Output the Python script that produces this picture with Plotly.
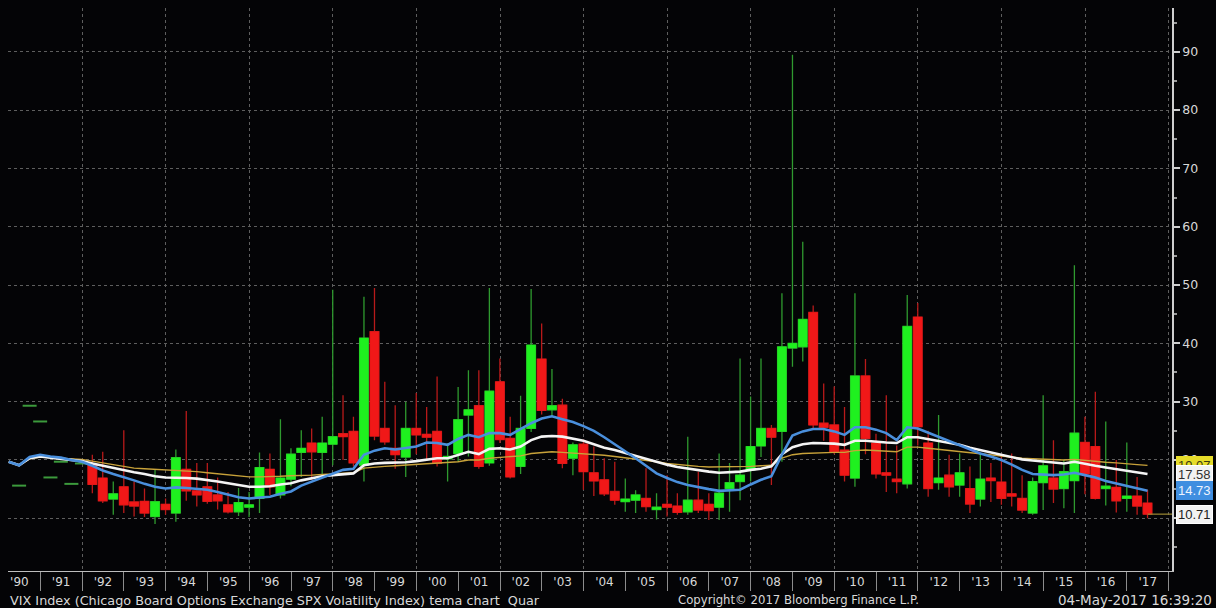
import pandas as pd
import plotly.graph_objects as go

# ---------------- data ----------------
quarters = pd.date_range("1990-03-31", periods=110, freq="QE")   # quarter-end dates 1990Q1..2017Q2
candle_q = quarters[8:]          # candles from 1992Q1
dash_q = quarters[1:8]           # early close-only marks 1990Q2..1991Q4
grid_years = pd.date_range("1992-01-01", "2018-01-01", freq="2YS")

dash_vals = [15.6, 29.3, 26.6, 17.0, 19.7, 15.9, 19.4]

opens = [
    19.1, 16.9, 13.3, 15.4,   # 1992
    12.8, 12.9, 10.3, 12.4,   # 1993
    10.9, 18.4, 14.7, 15.4,   # 1994
    14.0, 12.3, 11.1, 11.9,   # 1995
    13.4, 18.4, 14.0, 16.7,   # 1996
    21.3, 22.9, 21.3, 22.7,   # 1997
    24.5, 24.9, 19.1, 42.0,   # 1998
    25.4, 22.0, 20.5, 25.4,   # 1999
    24.4, 24.9, 20.2, 21.1,   # 2000
    27.7, 29.3, 19.5, 33.4,   # 2001
    23.7, 18.9, 25.4, 37.3,   # 2002
    28.6, 29.4, 20.3, 22.7,   # 2003
    17.8, 16.6, 14.6, 12.85,  # 2004
    13.1, 13.4, 11.5, 12.4,   # 2005
    12.1, 11.1, 13.1, 12.4,   # 2006
    11.9, 15.1, 16.3, 18.3,   # 2007
    22.4, 25.4, 24.9, 39.2,   # 2008
    39.4, 45.3, 26.3, 26.0,   # 2009
    21.7, 16.9, 34.4, 22.9,   # 2010
    17.8, 16.7, 15.9, 44.5,   # 2011
    22.9, 16.1, 17.4, 15.7,   # 2012
    15.1, 13.3, 16.9, 16.2,   # 2013
    14.2, 13.4, 10.9, 16.1,   # 2014
    16.9, 15.1, 16.45, 23.0,  # 2015
    22.3, 15.1, 15.3, 13.4,   # 2016
    13.8, 12.6,               # 2017
]
highs = [
    20.9, 21.4, 16.3, 25.1,
    16.3, 15.1, 18.4, 13.4,
    21.8, 28.4, 19.5, 19.5,
    17.0, 14.5, 15.2, 14.5,
    21.3, 21.1, 27.0, 22.0,
    25.1, 25.4, 27.4, 49.2,
    31.1, 27.4, 48.0, 49.5,
    33.4, 29.4, 30.0, 31.5,
    29.1, 34.3, 22.9, 32.5,
    35.4, 35.4, 49.5, 37.4,
    27.4, 31.0, 49.3, 43.4,
    35.6, 30.5, 23.0, 23.5,
    22.3, 20.3, 19.7, 16.8,
    14.8, 18.6, 14.3, 17.4,
    14.3, 24.0, 18.0, 14.3,
    21.1, 19.5, 37.4, 30.9,
    37.4, 26.0, 48.6, 89.5,
    57.4, 46.5, 33.1, 32.6,
    29.1, 48.6, 37.3, 24.5,
    31.1, 22.5, 48.3, 46.9,
    25.0, 27.7, 20.9, 21.1,
    18.9, 21.1, 19.5, 20.9,
    21.1, 17.4, 17.0, 31.1,
    23.4, 20.1, 53.4, 27.4,
    31.7, 26.6, 20.0, 23.0,
    17.1, 14.9,
]
lows = [
    14.3, 12.6, 10.6, 10.9,
    10.3, 10.2, 9.0, 10.6,
    9.4, 13.0, 12.0, 12.5,
    11.5, 10.8, 10.4, 10.2,
    10.9, 14.0, 13.4, 15.5,
    17.1, 16.6, 17.1, 19.1,
    20.0, 18.9, 16.3, 23.4,
    22.6, 18.5, 17.1, 21.0,
    20.0, 18.9, 16.3, 19.7,
    20.6, 18.5, 19.0, 22.9,
    16.8, 17.6, 24.8, 27.8,
    27.4, 18.6, 17.4, 14.9,
    13.8, 13.8, 12.3, 11.1,
    10.9, 11.1, 9.8, 10.3,
    10.6, 10.6, 10.9, 9.7,
    9.7, 11.1, 13.1, 16.3,
    20.5, 15.7, 19.7, 36.0,
    36.9, 25.5, 23.3, 21.0,
    16.3, 15.4, 21.0, 16.8,
    14.5, 14.3, 15.1, 22.5,
    13.7, 14.9, 13.7, 13.7,
    10.9, 12.0, 12.8, 12.3,
    12.0, 10.9, 10.6, 11.4,
    12.6, 11.7, 10.9, 14.1,
    13.2, 12.2, 11.0, 11.1,
    10.6, 10.0,
]
closes = [
    15.8, 13.0, 14.2, 12.3,
    12.1, 10.9, 12.85, 11.5,
    20.4, 14.7, 14.0, 12.9,
    13.0, 11.1, 12.7, 12.3,
    18.7, 15.4, 16.9, 21.0,
    22.0, 21.4, 22.9, 24.0,
    24.0, 19.5, 40.9, 24.1,
    23.1, 20.9, 25.4, 24.3,
    23.9, 19.4, 20.6, 26.9,
    28.6, 18.9, 31.8, 23.5,
    17.1, 25.4, 39.7, 28.5,
    29.3, 19.4, 22.6, 18.0,
    16.4, 14.2, 13.1, 13.3,
    14.0, 12.0, 11.9, 11.9,
    11.0, 13.1, 11.4, 11.3,
    14.3, 16.1, 17.4, 22.3,
    25.4, 23.9, 39.4, 40.0,
    44.1, 26.0, 25.6, 21.4,
    17.4, 34.4, 23.7, 17.6,
    17.4, 16.3, 42.9, 25.7,
    15.1, 16.9, 15.4, 17.8,
    12.45, 16.7, 16.45, 13.4,
    13.8, 11.4, 16.3, 19.0,
    15.0, 18.0, 24.6, 17.6,
    13.4, 15.5, 13.0, 13.8,
    12.1, 10.71,
]

tema_blue = [
    19.7, 19.1, 20.5, 20.9, 20.6, 20.4, 20.0, 19.7,
    19.0, 18.2, 17.6, 17.1, 16.5, 15.9, 15.4, 15.1,
    15.3, 15.2, 15.1, 14.9, 14.5, 14.0, 13.6, 13.4,
    13.6, 13.7, 14.2, 14.6, 15.6, 16.3, 17.0, 17.7,
    18.3, 18.5, 20.9, 21.6, 22.0, 21.8, 22.1, 22.3,
    23.0, 22.9, 22.6, 23.6, 24.3, 23.9, 24.6, 24.6,
    24.3, 25.3, 26.3, 27.1, 27.5, 27.0, 26.5, 25.8,
    25.0, 23.9, 22.7, 21.6, 20.3, 19.0, 17.7, 16.9,
    16.2, 15.7, 15.3, 15.0, 14.7, 14.8, 14.9, 15.8,
    16.6, 17.2, 20.9, 24.2, 24.9, 25.3, 25.3, 24.9,
    24.3, 25.6, 25.6, 25.2, 24.6, 23.4, 25.6, 25.4,
    24.7, 24.0, 23.3, 22.6, 21.9, 21.1, 20.6, 20.0,
    19.2, 18.3, 17.6, 17.5, 17.4, 17.5, 17.8, 17.4,
    17.0, 16.4, 16.0, 15.6, 15.2, 14.73,
]
tema_white = [
    19.7, 19.1, 20.3, 20.6, 20.4, 20.2, 20.0, 19.8,
    19.4, 19.0, 18.6, 18.3, 17.9, 17.6, 17.2, 17.0,
    17.0, 16.9, 16.8, 16.6, 16.3, 16.0, 15.7, 15.4,
    15.4, 15.5, 15.8, 16.0, 16.5, 16.9, 17.2, 17.4,
    17.6, 17.7, 19.1, 19.4, 19.5, 19.5, 19.6, 19.8,
    20.1, 20.3, 20.3, 20.9, 21.4, 21.0, 21.9, 22.0,
    21.8, 22.3, 23.4, 24.0, 24.1, 24.0, 23.7, 23.3,
    22.7, 22.1, 21.7, 21.2, 20.7, 20.1, 19.7, 19.2,
    18.8, 18.5, 18.2, 18.0, 17.8, 17.9, 18.0, 18.3,
    18.5, 18.9, 21.0, 22.2, 22.7, 22.9, 22.9, 22.8,
    22.6, 23.3, 23.3, 23.1, 23.0, 22.9, 23.9, 23.9,
    23.6, 23.2, 22.9, 22.6, 22.1, 21.7, 21.3, 20.8,
    20.5, 20.1, 19.9, 19.7, 19.5, 19.4, 19.7, 19.3,
    19.0, 18.7, 18.4, 18.2, 17.9, 17.58,
]
tema_yellow = [
    19.7, 19.2, 20.2, 20.5, 20.4, 20.3, 20.2, 20.1,
    19.8, 19.5, 19.2, 18.8, 18.6, 18.5, 18.4, 18.3,
    18.3, 18.2, 18.0, 17.8, 17.6, 17.4, 17.2, 17.1,
    17.1, 17.1, 17.2, 17.3, 17.3, 17.4, 17.5, 17.6,
    17.7, 17.8, 18.6, 18.8, 18.9, 19.0, 19.1, 19.2,
    19.3, 19.5, 19.5, 19.7, 20.0, 20.0, 20.3, 20.4,
    20.5, 20.7, 21.1, 21.3, 21.4, 21.3, 21.2, 21.1,
    21.0, 20.8, 20.6, 20.4, 20.2, 20.0, 19.7, 19.4,
    19.2, 19.0, 18.9, 18.8, 18.8, 18.8, 18.8, 18.9,
    19.0, 19.1, 20.3, 20.9, 21.1, 21.2, 21.3, 21.3,
    21.3, 21.6, 21.7, 21.6, 21.5, 21.4, 22.2, 22.2,
    22.0, 21.8, 21.6, 21.4, 21.2, 21.0, 20.9, 20.7,
    20.5, 20.3, 20.2, 20.1, 20.0, 20.0, 20.1, 19.9,
    19.8, 19.6, 19.5, 19.3, 19.2, 19.07,
]

y_ticks = [10, 20, 30, 40, 50, 60, 70, 80, 90]
x_range = ["1990-03-25", "2018-01-30"]
y_range = [0.96, 97.5]

# ---------------- styling ----------------
BG = "#040406"
UP, DN = "#1ff01f", "#f01818"
WICK_UP, WICK_DN = "#2f9a2f", "#b81a1a"
FONT = "Liberation Sans, Arial, sans-serif"
WIDE = "DejaVu Sans, Verdana, sans-serif"
TXT = "#d8d8d8"

body_hi = [max(o, c) for o, c in zip(opens, closes)]
body_lo = [min(o, c) for o, c in zip(opens, closes)]

fig = go.Figure()

# wicks
fig.add_trace(go.Candlestick(
    x=candle_q, open=opens, high=highs, low=lows, close=closes,
    increasing=dict(line=dict(color=WICK_UP, width=1.3), fillcolor=WICK_UP),
    decreasing=dict(line=dict(color=WICK_DN, width=1.3), fillcolor=WICK_DN),
    whiskerwidth=0, hoverinfo="skip", showlegend=False,
))
# bodies
fig.add_trace(go.Candlestick(
    x=candle_q, open=opens, high=body_hi, low=body_lo, close=closes,
    increasing=dict(line=dict(color=UP, width=0.5), fillcolor=UP),
    decreasing=dict(line=dict(color=DN, width=0.5), fillcolor=DN),
    whiskerwidth=0, hoverinfo="skip", showlegend=False,
))

# early close-only marks
fig.add_trace(go.Scatter(
    x=dash_q, y=dash_vals, mode="markers", xaxis="x2",
    marker=dict(symbol="line-ew", size=10, line=dict(color="#3c9a3c", width=2)),
    hoverinfo="skip", showlegend=False,
))

# TEMA lines
fig.add_trace(go.Scatter(x=quarters, y=tema_yellow, mode="lines", xaxis="x2",
                         line=dict(color="#c8a23a", width=1.4), hoverinfo="skip", showlegend=False))
fig.add_trace(go.Scatter(x=quarters, y=tema_white, mode="lines", xaxis="x2",
                         line=dict(color="#f4f4f4", width=2.6), hoverinfo="skip", showlegend=False))
fig.add_trace(go.Scatter(x=quarters, y=tema_blue, mode="lines", xaxis="x2",
                         line=dict(color="#4a8fdc", width=2.6), hoverinfo="skip", showlegend=False))

# last price line to the axis
fig.add_trace(go.Scatter(x=[quarters[-1], x_range[1]], y=[closes[-1], closes[-1]], mode="lines",
                         xaxis="x2", line=dict(color="#9c8a34", width=1.2),
                         hoverinfo="skip", showlegend=False))

grid = dict(showgrid=True, gridcolor="#5e5e5e", griddash="dot", gridwidth=1)

fig.update_layout(
    width=1216, height=608,
    margin=dict(l=8, r=44, t=8, b=37),
    paper_bgcolor=BG, plot_bgcolor=BG,
    boxgap=0.08, boxgroupgap=0.08,
    showlegend=False,
    font=dict(family=FONT, color=TXT, size=12),
    xaxis=dict(
        type="date", range=x_range, rangeslider=dict(visible=False),
        tickmode="array", tickvals=grid_years, ticks="", showticklabels=False,
        zeroline=False, showline=False, **grid,
    ),
    xaxis2=dict(
        type="date", range=x_range, overlaying="x", anchor="y", side="bottom",
        dtick="M12", tick0="1990-01-01", tickformat="'%y", ticklabelmode="period",
        ticks="outside", ticklen=19, tickwidth=1, tickcolor="#8c8c8c",
        ticklabelstandoff=-19,
        tickfont=dict(family=WIDE, size=12, color=TXT),
        showgrid=False, gridcolor="rgba(0,0,0,0)", zeroline=False,
        showline=True, linecolor="#bdbdbd", linewidth=1,
    ),
    yaxis=dict(
        side="right", range=y_range, tickvals=y_ticks,
        ticks="outside", ticklen=6, tickwidth=2, tickcolor="#cfcfcf",
        tickfont=dict(family=WIDE, size=12.5, color=TXT),
        showline=True, linecolor="#cfcfcf", linewidth=1.5,
        zeroline=False,
        minor=dict(dtick=5, tick0=0, ticks="outside", ticklen=3, tickcolor="#9a9a9a", showgrid=False),
        **grid,
    ),
)

# end-value labels on the right axis
end_labels = [
    (tema_yellow[-1], "#e6dc2a", "#3a3a10", "#e6dc2a"),
    (tema_white[-1], "#f2f2f2", "#303030", "#ffffff"),
    (tema_blue[-1], "#3f8ee0", "#eef4ff", "#3f8ee0"),
    (closes[-1], "#f2f2f2", "#202020", "#ffffff"),
]
for val, bg, fg, border in end_labels:
    fig.add_annotation(
        x=1, xref="paper", y=val, yref="y", xanchor="left", yanchor="middle",
        xshift=4, text=f"{val:.2f}", showarrow=False,
        font=dict(family=FONT, size=13, color=fg),
        bgcolor=bg, bordercolor=border, borderwidth=1, borderpad=1,
    )

# footer texts
fig.add_annotation(x=0, xref="paper", y=-0.052, yref="paper", xanchor="left", yanchor="middle",
                   text="VIX Index (Chicago Board Options Exchange SPX Volatility Index) tema chart  Quar",
                   showarrow=False, font=dict(family=WIDE, size=12.8, color=TXT))
fig.add_annotation(x=0.574, xref="paper", y=-0.052, yref="paper", xanchor="left", yanchor="middle",
                   text="Copyright© 2017 Bloomberg Finance L.P.",
                   showarrow=False, font=dict(family=WIDE, size=11.7, color=TXT))
fig.add_annotation(x=1, xref="paper", y=-0.052, yref="paper", xanchor="right", yanchor="middle",
                   xshift=42, text="04-May-2017 16:39:20",
                   showarrow=False, font=dict(family=WIDE, size=13.5, color=TXT))

fig.write_html(
    "out.html",
    config={"displayModeBar": False},
    post_script="document.body.style.margin='0';document.body.style.background='#040406';",
)
